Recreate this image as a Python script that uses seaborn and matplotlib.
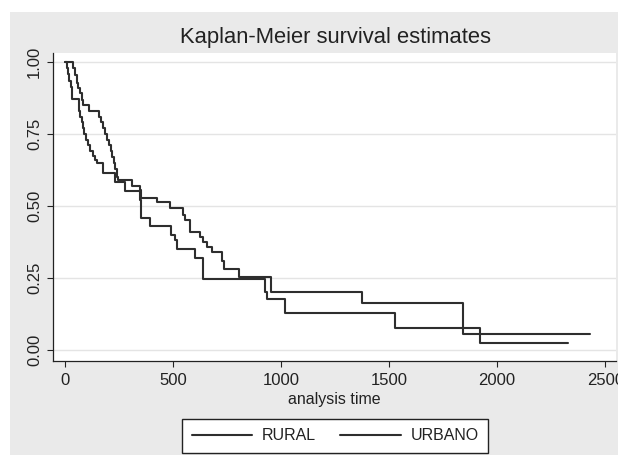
import matplotlib
matplotlib.use('Agg')
import matplotlib.pyplot as plt
from matplotlib.patches import Rectangle
import pandas as pd
import seaborn as sns

# Kaplan-Meier step values
rural_t = [0, 10, 16, 22, 27, 32, 68, 72, 78, 84,
           90, 98, 106, 117, 129, 140, 148, 176, 235, 279,
           349, 351, 353, 394, 492, 510, 518, 603, 641, 926,
           937, 1019, 1528, 1921, 2330]
rural_s = [1.0, 0.978, 0.957, 0.935, 0.913, 0.87, 0.83, 0.81, 0.79, 0.77,
           0.75, 0.73, 0.71, 0.69, 0.675, 0.66, 0.648, 0.616, 0.585, 0.552,
           0.52, 0.49, 0.457, 0.43, 0.399, 0.382, 0.352, 0.318, 0.245, 0.2025,
           0.176, 0.127, 0.075, 0.023, 0.023]

urbano_t = [0, 40, 48, 55, 63, 71, 78, 86, 114, 160,
            168, 176, 186, 196, 205, 212, 218, 226, 234, 240,
            248, 310, 348, 355, 425, 487, 549, 556, 580, 626,
            641, 657, 680, 728, 736, 808, 955, 1377, 1844, 2430]
urbano_s = [1.0, 0.978, 0.955, 0.926, 0.91, 0.891, 0.868, 0.851, 0.831, 0.81,
            0.79, 0.77, 0.75, 0.73, 0.71, 0.69, 0.67, 0.65, 0.63, 0.60,
            0.59, 0.57, 0.556, 0.529, 0.513, 0.494, 0.469, 0.451, 0.411, 0.393,
            0.376, 0.359, 0.341, 0.31, 0.28, 0.255, 0.2025, 0.164, 0.0545, 0.0545]

groups = ['RURAL', 'URBANO']
y_ticks = [0, 0.25, 0.5, 0.75, 1.0]
y_tick_labels = ['0.00', '0.25', '0.50', '0.75', '1.00']
x_ticks = [0, 500, 1000, 1500, 2000, 2500]

df = pd.concat([
    pd.DataFrame({'tiempo': rural_t, 'supervivencia': rural_s, 'grupo': groups[0]}),
    pd.DataFrame({'tiempo': urbano_t, 'supervivencia': urbano_s, 'grupo': groups[1]}),
], ignore_index=True)

sns.set_theme(style='white')
plt.rcParams['font.family'] = ['Liberation Sans', 'DejaVu Sans']

fig = plt.figure(figsize=(6.18, 4.55), dpi=100)
fig.patch.set_facecolor('white')
# grey graph region (screenshot leaves a thin white strip top/left)
fig.patches.append(Rectangle((10 / 618, 0), 1, (455 - 12) / 455,
                             transform=fig.transFigure, facecolor='#eaeaea',
                             edgecolor='none', zorder=-10))

ax = fig.add_axes([53 / 618, 94 / 455, (616 - 53) / 618, (402 - 94) / 455])
ax.set_facecolor('white')

line_col = '#2e2e2e'
sns.lineplot(data=df, x='tiempo', y='supervivencia', hue='grupo',
             palette={g: line_col for g in groups}, drawstyle='steps-post',
             estimator=None, sort=False, linewidth=1.5, ax=ax)

ax.set_xlim(-54, 2550)
ax.set_ylim(-0.038, 1.031)
ax.set_xticks(x_ticks)
ax.set_yticks(y_ticks)
ax.set_yticklabels(y_tick_labels, rotation=90, va='center')
ax.grid(axis='y', color='#e4e4e4', linewidth=1.0)
ax.grid(axis='x', visible=False)
ax.tick_params(axis='both', direction='out', length=4.3, width=0.8,
               colors='#222222', labelsize=12, pad=3.5, left=True, bottom=True)
ax.tick_params(axis='x', pad=4.5)

for side in ['top', 'right']:
    ax.spines[side].set_visible(False)
for side in ['left', 'bottom']:
    ax.spines[side].set_color('#222222')
    ax.spines[side].set_linewidth(0.9)

ax.set_xlabel('analysis time', fontsize=11.5, color='#222222', labelpad=2.5)
ax.set_ylabel('')

fig.text(335 / 618, 1 - 38 / 455, 'Kaplan-Meier survival estimates',
         ha='center', va='center', fontsize=15.8, color='#222222')

handles, labels = ax.get_legend_handles_labels()
ax.get_legend().remove()
leg = fig.legend(handles, labels, loc='center', bbox_to_anchor=(335 / 618, 19 / 455),
                 ncol=2, fontsize=11.5, frameon=True, fancybox=False,
                 edgecolor='#222222', framealpha=1, handlelength=3.8,
                 handletextpad=0.6, columnspacing=1.5, borderpad=0.6)
leg.get_frame().set_linewidth(1.0)
for t in leg.get_texts():
    t.set_color('#222222')

fig.savefig('out.png', dpi=100, facecolor=fig.get_facecolor())
